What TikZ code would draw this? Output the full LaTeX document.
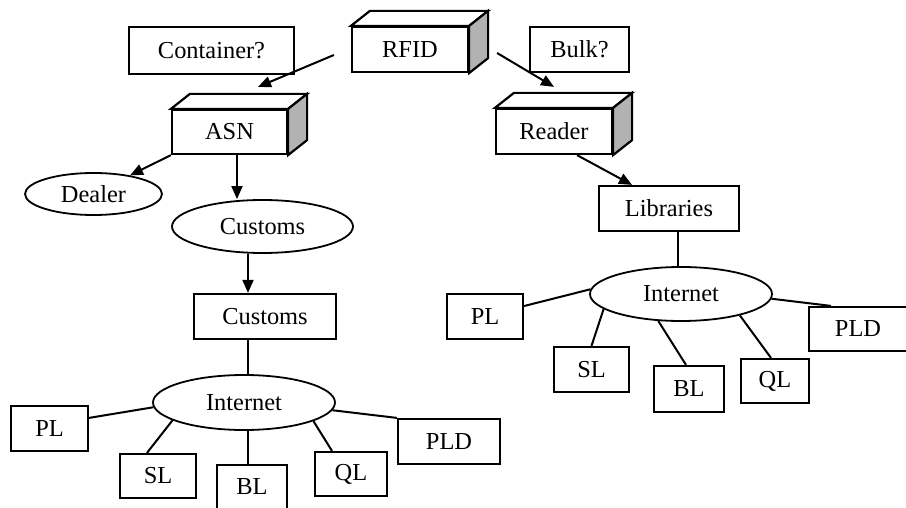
\documentclass[tikz,border=0pt]{standalone}
\usepackage{fontspec}
\setmainfont{Liberation Serif}
\usetikzlibrary{shapes.geometric,arrows.meta}
\newcommand{\boxdepth}[1]{%
\draw [line width=1.1pt, fill=white] (#1.north west) -- ([shift={(19,-15)}]#1.north west) -- ([shift={(19,-15)}]#1.north east) -- (#1.north east) -- cycle;
\draw [line width=1.1pt, fill=black!30] (#1.north east) -- ([shift={(19,-15)}]#1.north east) -- ([shift={(19,-15)}]#1.south east) -- (#1.south east) -- cycle;
}

\begin{document}
\begin{tikzpicture}[x=0.5pt, y=-0.5pt,
  every node/.style={font=\fontsize{12.2}{14}\selectfont},
  box/.style={draw, line width=1.1pt, inner sep=0pt},
  oval/.style={draw, ellipse, line width=0.9pt, inner sep=0pt},
  arr/.style={-{Triangle[length=6.5pt,width=5.5pt]}, line width=1pt},
  link/.style={line width=1pt}]
\useasboundingbox (0,0) rectangle (906,508);
\clip (0,0) rectangle (906,508);

% top row
\node (cont) at (211.5,50.5) [box, minimum width=82.5pt, minimum height=23.5pt] {Container?};
\node (rfid) at (410,49.5) [box, minimum width=58pt, minimum height=22.5pt] {RFID};
\node (bulk) at (579.5,49.5) [box, minimum width=49.5pt, minimum height=22.5pt] {Bulk?};
\boxdepth{rfid}

% left branch
\node (asn) at (229.5,132) [box, minimum width=57.5pt, minimum height=22pt] {ASN};
\boxdepth{asn}
\node (dealer) at (93.5,194) [oval, minimum width=68.5pt, minimum height=21pt] {Dealer};
\node (cust) at (262.5,226.5) [oval, minimum width=90.5pt, minimum height=26.5pt] {Customs};
\node (custbox) at (265,316.5) [box, minimum width=71pt, minimum height=22.5pt] {Customs};
\node (netL) at (244,402.5) [oval, minimum width=91pt, minimum height=27.5pt] {Internet};
\node (plL) at (49.5,428.5) [box, minimum width=38.5pt, minimum height=22.5pt] {PL};
\node (slL) at (158,476) [box, minimum width=38pt, minimum height=22pt] {SL};
\node (blL) at (252,487) [box, minimum width=35pt, minimum height=22pt] {BL};
\node (qlL) at (351,474) [box, minimum width=36pt, minimum height=22pt] {QL};
\node (pldL) at (449,441.5) [box, minimum width=51pt, minimum height=22.5pt] {PLD};

% right branch
\node (reader) at (554,131.5) [box, minimum width=58pt, minimum height=22.5pt] {Reader};
\boxdepth{reader}
\node (lib) at (669,208.5) [box, minimum width=70pt, minimum height=22.5pt] {Libraries};
\node (netR) at (681,294) [oval, minimum width=91pt, minimum height=27pt] {Internet};
\node (plR) at (485,316.5) [box, minimum width=38pt, minimum height=22.5pt] {PL};
\node (slR) at (591.5,369.5) [box, minimum width=37.5pt, minimum height=22.5pt] {SL};
\node (blR) at (689,389) [box, minimum width=35pt, minimum height=23pt] {BL};
\node (qlR) at (775,381) [box, minimum width=34pt, minimum height=22pt] {QL};
\node (pldR) at (858,329) [box, minimum width=49pt, minimum height=22pt] {PLD};

\coordinate (rfidL) at ([xshift=-8.5pt, yshift=-2.75pt]rfid.west);
\coordinate (asnIn) at ([xshift=14.25pt, yshift=11pt]asn.north);
\coordinate (rfidR) at ([xshift=14pt, yshift=-1.75pt]rfid.east);
\coordinate (readerIn) at ([yshift=10.5pt]reader.north);
\coordinate (asnOut) at ([xshift=3.75pt]asn.south);
\coordinate (colL) at ([xshift=-8.5pt]custbox.north);
\coordinate (colR) at ([xshift=4.5pt]lib.south);

\draw [arr] (rfidL) -- (asnIn);
\draw [arr] (rfidR) -- (readerIn);
\draw [arr] (asn.south west) -- (dealer.27);
\draw [arr] (asnOut) -- (asnOut |- cust.north);
\draw [arr] (cust.south -| colL) -- (colL);
\draw [link] (custbox.south -| colL) -- (netL.north -| colL);
\draw [arr] ([xshift=11.5pt]reader.south) -- ([xshift=-18.5pt]lib.north);
\draw [link] (colR) -- (netR.north -| colR);

\draw [link] (netL.183) -- (plL.15);
\draw [link] (netL.194) -- ([xshift=-5.5pt]slL.north);
\draw [link] (netL.south -| colL) -- (blL.north -| colL);
\draw [link] (netL.-15) -- ([xshift=-9.5pt]qlL.north);
\draw [link] (netL.-5) -- (pldL.north west);

\draw [link] (netR.177) -- (plR.15);
\draw [link] (netR.191) -- (slR.north);
\draw [link] (netR.230) -- ([xshift=-1.5pt]blR.north);
\draw [link] (netR.-20) -- ([xshift=-2pt]qlR.north);
\draw [link] (netR.-3) -- ([xshift=-13.5pt]pldR.north);
\end{tikzpicture}
\end{document}
